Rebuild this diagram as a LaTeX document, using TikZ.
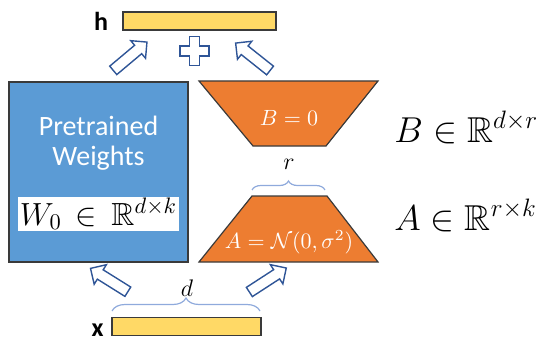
\RequirePackage{fix-cm}
\documentclass[tikz,border=0pt]{standalone}
\usepackage{amssymb}
\usepackage{fontspec}
\setsansfont{Carlito}
\usepackage{tikz}
\usetikzlibrary{positioning,shapes.arrows,decorations.pathreplacing}
\definecolor{weightblue}{HTML}{5B9BD5}
\definecolor{loraorange}{HTML}{ED7D31}
\definecolor{baryellow}{HTML}{FFD966}
\definecolor{arrowblue}{HTML}{2F5597}
\definecolor{bracegray}{HTML}{8FAADC}
\definecolor{edgedark}{HTML}{3A3A3A}

\begin{document}
\begin{tikzpicture}[
  x=0.5pt,y=-0.5pt,
  every node/.style={inner sep=0pt},
  bar/.style={draw=edgedark,fill=baryellow,line width=0.6pt,minimum height=9pt},
  lora/.style={draw=edgedark,fill=loraorange,line width=0.6pt},
  blockarr/.style={single arrow,draw=arrowblue,fill=white,line width=0.7pt,
    minimum height=22pt,inner sep=2.4pt,single arrow head extend=3pt,rotate=#1},
  brc/.style={draw=bracegray,line width=0.6pt,decorate,decoration={brace,amplitude=#1}},
  biglab/.style={anchor=base west,font=\fontsize{18}{20}\selectfont},
  inlab/.style={anchor=base,text=white,font=\fontsize{11}{13}\selectfont}
]
\useasboundingbox (0,0) rectangle (539,342);

\node[bar,minimum width=76.5pt] (hbar) at (199.5,21) {};
\node[left=7pt of hbar,font=\sffamily\bfseries\fontsize{13}{15}\selectfont] (hlab) {h};
\node[bar,minimum width=74.5pt] (xbar) at (186.5,326.5) {};
\node[anchor=base east,font=\sffamily\bfseries\fontsize{13}{15}\selectfont] (xlab) at (104,336) {x};

\node[draw=edgedark,fill=weightblue,line width=0.7pt,minimum width=89.5pt,minimum height=90pt] (pre) at (98.5,172) {};
\node[text=white,align=center,font=\sffamily\fontsize{14}{15}\selectfont] (pretxt) at (98.5,143) {Pretrained\\Weights};
\node[fill=white,minimum width=80.5pt,minimum height=17pt,font=\fontsize{16}{18}\selectfont] (wzero) at (98.5,214) {$W_0 \,\in\, \mathbb{R}^{d\times k}$};

% low-rank factors
\draw[lora] (199,81) -- (378,81) -- (326,146) -- (253,146) -- cycle;
\draw[lora] (252,196) -- (327,196) -- (378,262) -- (199,262) -- cycle;
\node[inlab] (bzero) at (289,125) {$B=0$};
\node[inlab] (ainit) at (289,248) {$A=\mathcal{N}(0,\sigma^2)$};
\node[biglab] (bdim) at (394,142) {$B \in \mathbb{R}^{d\times r}$};
\node[biglab] (adim) at (394,230) {$A \in \mathbb{R}^{r\times k}$};

\draw[brc=4.5pt] (252,190) -- (325,190);
\node[font=\fontsize{12}{14}\selectfont] (rlab) at (289,164) {$r$};
\draw[brc=6.5pt] (112,311) -- (260,311);
\node[font=\fontsize{12}{14}\selectfont] (dlab) at (187,288) {$d$};

\node[blockarr=40] (upw) at (128,58) {};
\node[blockarr=141.5] (upb) at (255,58.5) {};
\node[blockarr=148] (inw) at (111.5,281.5) {};
\node[blockarr=33] (ina) at (265.5,281.5) {};

\draw[draw=arrowblue,fill=white,line width=0.7pt]
  (189.5,36.5) -- (199.5,36.5) -- (199.5,46) -- (209,46) -- (209,56) -- (199.5,56)
  -- (199.5,65.5) -- (189.5,65.5) -- (189.5,56) -- (180,56) -- (180,46) -- (189.5,46) -- cycle;
\end{tikzpicture}
\end{document}
